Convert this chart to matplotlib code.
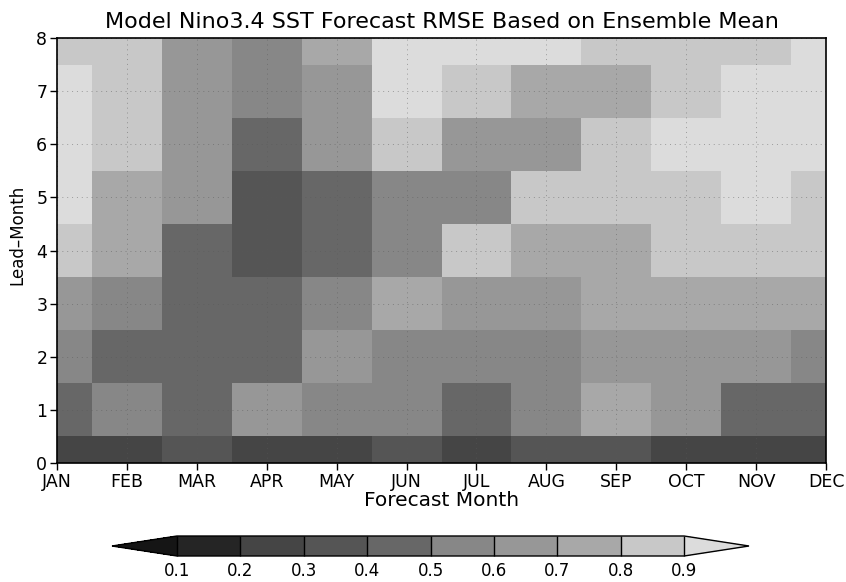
import matplotlib
matplotlib.use("Agg")
import matplotlib.pyplot as plt
import numpy as np
from matplotlib.colors import ListedColormap, BoundaryNorm

# RMSE of ensemble mean, rows = lead month 0..8, columns = forecast month
months = ['JAN', 'FEB', 'MAR', 'APR', 'MAY', 'JUN', 'JUL', 'AUG', 'SEP', 'OCT', 'NOV', 'DEC']
leads = [0, 1, 2, 3, 4, 5, 6, 7, 8]
lead0 = [0.25, 0.25, 0.35, 0.25, 0.25, 0.35, 0.25, 0.35, 0.35, 0.25, 0.25, 0.25]
lead1 = [0.45, 0.55, 0.45, 0.65, 0.55, 0.55, 0.45, 0.55, 0.75, 0.65, 0.45, 0.45]
lead2 = [0.55, 0.45, 0.45, 0.45, 0.65, 0.55, 0.55, 0.55, 0.65, 0.65, 0.65, 0.55]
lead3 = [0.65, 0.55, 0.45, 0.45, 0.55, 0.75, 0.65, 0.65, 0.75, 0.75, 0.75, 0.75]
lead4 = [0.85, 0.75, 0.45, 0.35, 0.45, 0.55, 0.85, 0.75, 0.75, 0.85, 0.85, 0.85]
lead5 = [0.95, 0.75, 0.65, 0.35, 0.45, 0.55, 0.55, 0.85, 0.85, 0.85, 0.95, 0.85]
lead6 = [0.95, 0.85, 0.65, 0.45, 0.65, 0.85, 0.65, 0.65, 0.85, 0.95, 0.95, 0.95]
lead7 = [0.95, 0.85, 0.65, 0.55, 0.65, 0.95, 0.85, 0.75, 0.75, 0.85, 0.95, 0.95]
lead8 = [0.85, 0.85, 0.65, 0.55, 0.75, 0.95, 0.95, 0.95, 0.85, 0.85, 0.85, 0.95]
rmse = np.array([lead0, lead1, lead2, lead3, lead4, lead5, lead6, lead7, lead8])

levels = [0.1, 0.2, 0.3, 0.4, 0.5, 0.6, 0.7, 0.8, 0.9]
greys = ['#252525', '#454545', '#555555', '#676767', '#878787',
         '#979797', '#a8a8a8', '#c8c8c8']
cmap = ListedColormap(greys)
cmap.set_under('#151515')
cmap.set_over('#dcdcdc')
norm = BoundaryNorm(levels, cmap.N)

fig = plt.figure(figsize=(8.46, 5.82), dpi=100)
ax = fig.add_axes([57 / 846, 1 - 463 / 582, 769 / 846, 425 / 582])

x = np.arange(len(months))
mesh = ax.pcolormesh(x, leads, rmse, cmap=cmap, norm=norm, shading='nearest')
ax.set_xlim(0, 11)
ax.set_ylim(0, 8)

ax.set_xticks(x)
ax.set_xticklabels(months)
ax.set_yticks(leads)
ax.tick_params(direction='out', length=5, width=1, labelsize=12.5, pad=2)
ax.grid(True, color='0.35', linestyle=(0, (1, 4)), linewidth=0.7, alpha=0.5)
for s in ax.spines.values():
    s.set_linewidth(1.2)

ax.set_title('Model Nino3.4 SST Forecast RMSE Based on Ensemble Mean',
             fontsize=16, pad=7)
ax.set_xlabel('Forecast Month', fontsize=14.5, labelpad=0)
ax.set_ylabel('Lead\u2013Month', fontsize=12)
ax.yaxis.set_label_coords(-0.040, (463 - 235) / 425)

# colour key with triangular end caps
cax = fig.add_axes([112 / 846, 1 - 556 / 582, 637 / 846, 20 / 582])
cb = fig.colorbar(mesh, cax=cax, orientation='horizontal', extend='both',
                  extendfrac=0.128, drawedges=True, ticks=levels)
cb.outline.set_linewidth(1)
cb.dividers.set_linewidth(1)
cb.ax.tick_params(length=0, labelsize=12, pad=4)
cb.ax.set_xticklabels([f'{v:.1f}' for v in levels])

fig.savefig('out.png', dpi=100)
